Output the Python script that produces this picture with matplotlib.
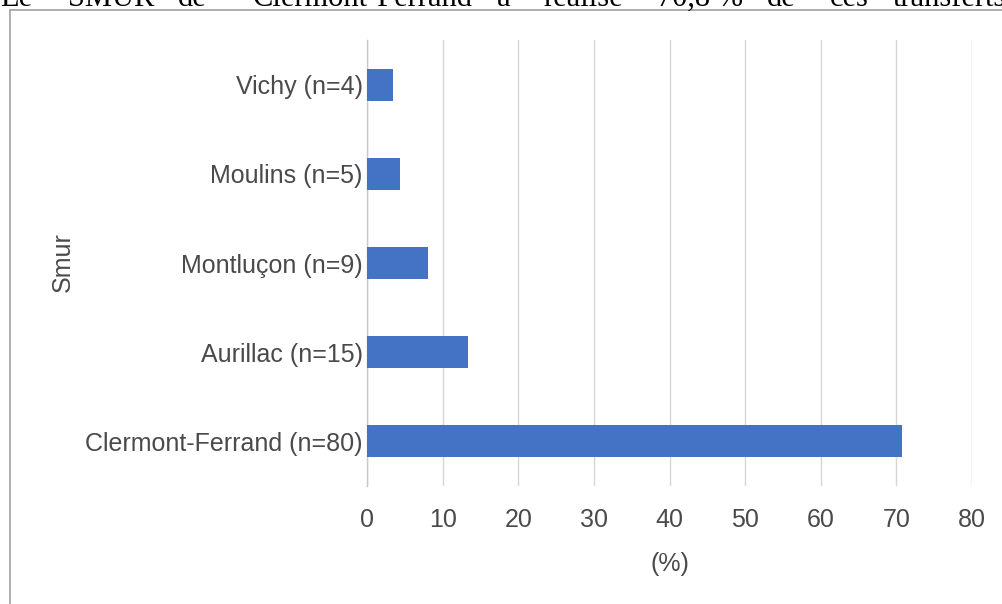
import matplotlib.pyplot as plt
from matplotlib.lines import Line2D

# data: share of transfers by SMUR (n total = 113)
smur = ["Clermont-Ferrand (n=80)", "Aurillac (n=15)", "Montluçon (n=9)",
        "Moulins (n=5)", "Vichy (n=4)"]
pct = [70.8, 13.3, 8.0, 4.4, 3.5]
xticks = [0, 10, 20, 30, 40, 50, 60, 70, 80]

# cut-off sentence above the chart (only the bottom of it is visible)
top_words = ["Le", "SMUR", "de", "Clermont-Ferrand", "a", "réalisé",
             "70,8 %", "de", "ces", "transferts"]
top_x = [0, 68, 178, 253, 497, 543, 657, 767, 830, 893]

W, H = 1002, 604
txt = "#4a4a4a"
blue = "#4472c4"
grid = "#d6d6d6"

plt.rcParams["font.family"] = ["Liberation Sans", "DejaVu Sans"]

fig = plt.figure(figsize=(W / 100, H / 100), dpi=100)
ax = fig.add_axes([367 / W, 1 - 486 / H, (972 - 367) / W, (486 - 40) / H])

ypos = list(range(len(smur)))
ax.barh(ypos, pct, height=0.36, color=blue, zorder=3)

ax.set_xlim(0, 80)
ax.set_ylim(-0.5, len(smur) - 0.5)
ax.set_xticks(xticks)
ax.set_xticklabels([str(t) for t in xticks])
ax.set_yticks(ypos)
ax.set_yticklabels(smur)
ax.tick_params(axis="y", length=0, pad=3, labelsize=18, labelcolor=txt)
ax.tick_params(axis="x", length=0, pad=16, labelsize=18, labelcolor=txt)
ax.grid(axis="x", color=grid, linewidth=1.0, zorder=0)
for s in ["top", "right", "bottom"]:
    ax.spines[s].set_visible(False)
ax.spines["left"].set_color("#c8c8c8")
ax.spines["left"].set_linewidth(1.0)

ax.set_xlabel("(%)", fontsize=18, color=txt, labelpad=14)
fig.text(63 / W, 1 - 262 / H, "Smur", rotation=90, ha="center", va="center",
         fontsize=18, color=txt)

# frame around the chart (left and top edges only visible)
fig.add_artist(Line2D([10 / W, 10 / W], [0, 1 - 10 / H], transform=fig.transFigure,
                      color="#a8a8a8", linewidth=1.3))
fig.add_artist(Line2D([10 / W, 1], [1 - 10 / H, 1 - 10 / H], transform=fig.transFigure,
                      color="#a8a8a8", linewidth=1.3))

for w, x in zip(top_words, top_x):
    fig.text(x / W, 1 - 6 / H, w, ha="left", va="baseline", fontsize=22,
             family=["Liberation Serif", "DejaVu Serif"], color="black")

fig.savefig("out.png", dpi=100)
